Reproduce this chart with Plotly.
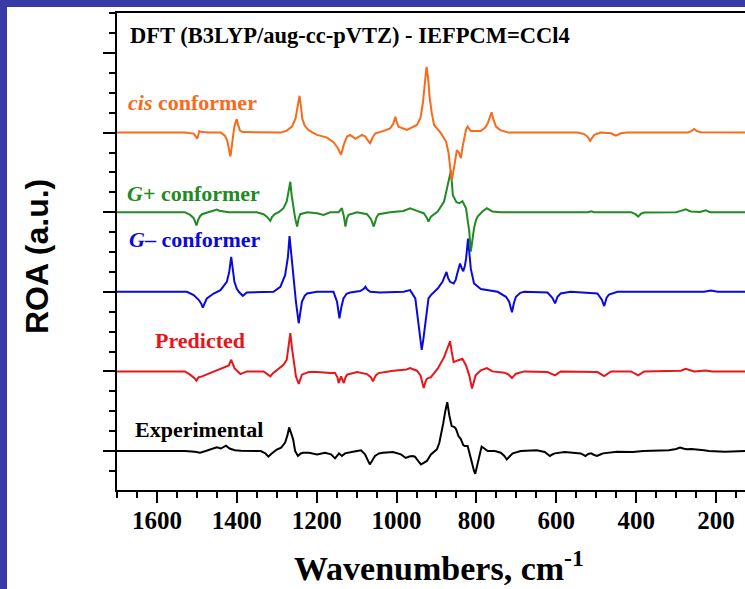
import plotly.graph_objects as go

# ---------------------------------------------------------------
# ROA spectra (wavenumber in cm-1, intensity in arbitrary units)
# ---------------------------------------------------------------
cis_wn = [1700, 1530, 1508, 1502, 1499, 1496, 1494, 1488, 1470, 1440, 1430, 1424, 1419, 1416, 1412,
          1407, 1402, 1400, 1397, 1392, 1385, 1320, 1290, 1275, 1262, 1253, 1247, 1243, 1240, 1236,
          1230, 1222, 1210, 1199, 1174, 1158, 1148, 1139, 1132, 1124, 1116, 1103, 1087, 1078, 1070,
          1066, 1060, 1053, 1032, 1016, 1008, 1003, 999, 995, 974, 949, 940, 934, 929, 925, 921, 917,
          912, 906, 889, 876, 870, 866, 862, 858, 854, 849, 844, 839, 835, 831, 826, 822, 818, 814,
          789, 778, 772, 766, 762, 758, 751, 740, 730, 720, 547, 530, 522, 515, 510, 505, 489, 463,
          451, 438, 425, 271, 262, 255, 248, 238, 127]
cis_roa = [0, 0, -1, -4, -6, -2, 1.5, 0.5, 0, 0, -3, -8, -18, -24, -12,
           4, 12, 13.5, 8, 2, 0.5, 0.5, 0, 2, 6, 14, 28, 37, 28, 14,
           7, 3, 0, -2.3, -5, -9.7, -15, -22.3, -12, -4, -2.3, -6.3, -2.3, -4, -9,
           -10.7, -5, -0.7, 1.7, 4.3, 9, 16, 10, 6, 2.7, 7.7, 15, 30, 50, 66, 55, 35,
           20, 7.7, -0.6, -9, -20, -35, -48, -40, -28, -17.7, -20, -25.6, -15, -5, 3, 6, 3, 1.5,
           1.5, 5, 9, 15, 20.4, 14, 6, 2.5, 1, 0, 0, -1.5, -4, -8.3, -5, -2.3, 0, -0.7,
           -3, -0.7, 0, 0, 1.5, 3.7, 1.5, 0.3, 0]

gplus_wn = [1700, 1530, 1517, 1508, 1504, 1501, 1497, 1492, 1487, 1466, 1455, 1450, 1444, 1433, 1420,
            1350, 1333, 1325, 1319, 1316, 1312, 1305, 1295, 1283, 1275, 1270, 1266, 1263, 1259, 1254,
            1249, 1245, 1241, 1224, 1199, 1183, 1166, 1145, 1137, 1132, 1128, 1124, 1120, 1099, 1074,
            1064, 1057, 1050, 1045, 1016, 983, 966, 949, 932, 925, 920, 914, 897, 881, 871, 866, 864,
            861, 859, 850, 843, 835, 830, 826, 822, 818, 814, 810, 806, 801, 797, 785, 774, 766, 760,
            740, 520, 513, 505, 413, 402, 395, 388, 380, 300, 288, 276, 268, 263, 240, 226, 218, 213, 127]
gplus_roa = [0, 0, -2.7, -6, -10, -13.4, -8, -4, -2, 0.7, 2, 2.6, 1.5, 0.7, 0,
             0, -2, -4.5, -7, -8.7, -5, -2, 0, 4, 10.7, 20, 30.6, 18, 5, -6,
             -14.4, -6, -2, 0, -1, -2.7, 0, 0, 4, -4, -14.4, -6, -2.7, 0, -2,
             -7, -14.4, -5, -2, 0, 1.3, 4, 1.3, -1, -5, -9.4, -4.4, 0.7, 10.7, 27, 38, 42,
             30, 17, 10, 9, 11, 7, 4, -8, -19, -39.7, -25, -16, -8, -4.4, 0.7, 4, 2, 0.7,
             0, 0, 1, 0, 0, -2, -4.4, -1.5, -0.3, 0, 1.3, 3, 1.5, 0.7, 0.3, 2, 0.5, 0, 0]

gminus_wn = [1700, 1525, 1508, 1495, 1489, 1485, 1481, 1475, 1458, 1441, 1425, 1419, 1414, 1410, 1406,
             1400, 1395, 1385, 1375, 1308, 1291, 1279, 1272, 1268, 1264, 1258, 1252, 1245, 1241, 1237,
             1230, 1224, 1199, 1158, 1149, 1143, 1138, 1133, 1125, 1116, 1091, 1082, 1078, 1074, 1066,
             1041, 982, 966, 953, 945, 940, 937, 933, 928, 920, 914, 905, 897, 885, 879, 875, 871, 866,
             857, 852, 847, 841, 837, 833, 829, 826, 821, 818, 814, 806, 789, 747, 726, 718, 711, 706,
             701, 690, 680, 622, 610, 603, 597, 589, 564, 497, 486, 480, 474, 468, 447, 230, 213, 196, 127]
gminus_roa = [0, 0, -3.3, -8.3, -12, -16, -12, -6.7, -1.7, 1.7, 10, 20, 35, 22, 10,
              3, 0, -4, -0.7, 0, 5, 16.7, 35, 56, 38, 16.7, -10, -31.6, -20, -10,
              -4, -1.7, 0, 0, -10, -26.6, -15, -6.7, -2, -0.7, 0.7, 3, 5, 2.5, 0,
              -0.7, 0, 1.7, -6.7, -30, -50, -58.3, -48, -30, -6.7, -3.3, 0, 3.3, 10, 15, 20, 14, 10,
              8.3, 12, 20, 28.4, 24, 20.7, 26, 33, 53.4, 40, 23, 8.3, 2.7, 0, -5, -10, -20.6, -11,
              -5, -1, 0, -0.7, -6, -11.6, -5, -1.7, 0, -1.7, -8, -14.3, -6, -2.7, 0, 0, 1.3, 0, 0]

pred_wn = [1700, 1530, 1517, 1505, 1501, 1496, 1487, 1466, 1433, 1420, 1414, 1409, 1406, 1391, 1375,
           1333, 1322, 1316, 1310, 1304, 1283, 1275, 1270, 1266, 1262, 1258, 1252, 1245, 1241, 1237,
           1220, 1199, 1166, 1154, 1148, 1145, 1139, 1132, 1128, 1124, 1099, 1074, 1064, 1059, 1052,
           1045, 1008, 975, 966, 958, 949, 940, 937, 932, 928, 924, 914, 905, 897, 881, 872, 866, 862,
           857, 847, 835, 826, 818, 811, 806, 802, 789, 774, 760, 730, 720, 711, 705, 701, 680, 622,
           603, 589, 497, 480, 463, 413, 395, 380, 288, 276, 255, 226, 210, 127]
pred_roa = [0, 0, -3.3, -7, -9.3, -6, -5, -1.7, 3.3, 6, 11.7, 6, 3.3, -2.7, 0,
            0, -3, -5, -2, 0, 6.7, 11.7, 25, 38.4, 24, 10, -5, -12.6, -7, -3.3,
            -0.7, -0.7, -1.7, -1.7, -6, -11.7, -5, -11.7, -6, -3.3, -0.7, -2.7, -6, -10, -4,
            -1.7, 0.7, 2, 3.3, 2, 0.7, -4, -8.3, -16.6, -11, -7.3, -5.7, -1, 2.7, 14.3, 24, 30.3, 20,
            9.3, 11, 12.7, 6, -4, -17.3, -10, -4, 1, 3.3, 0, -1.3, -3, -6.7, -4, -2.3, 0, -0.7,
            -4, 0, -0.7, -4.7, 0, 0, -4, 0, 0.7, 2.7, 0, 1, 0, 0]

exp_wn = [1700, 1530, 1505, 1492, 1478, 1462, 1450, 1440, 1432, 1427, 1418, 1405, 1390, 1340, 1328,
          1321, 1314, 1309, 1300, 1289, 1279, 1273, 1269, 1264, 1259, 1254, 1247, 1240, 1234, 1219,
          1199, 1179, 1164, 1154, 1148, 1144, 1137, 1129, 1109, 1089, 1079, 1072, 1067, 1060, 1054,
          1044, 1034, 1009, 989, 977, 968, 960, 954, 946, 939, 932, 924, 914, 905, 899, 893, 889, 883,
          878, 873, 868, 862, 855, 851, 845, 839, 833, 829, 822, 816, 811, 806, 803, 799, 794, 790,
          787, 780, 772, 754, 739, 730, 724, 716, 709, 689, 649, 629, 621, 616, 610, 604, 579, 539,
          532, 527, 520, 513, 505, 498, 490, 483, 448, 408, 383, 318, 300, 290, 280, 273, 262, 248,
          230, 218, 178, 127]
exp_roa = [0, 0, -0.8, -1.7, 0, 2.4, 3.7, 2.5, 4.5, 5.3, 2.5, 0.8, 0.3, 0, -2.5,
           -5.7, -3, -1.7, 1.5, 3.4, 8.5, 16, 23.7, 18, 11.8, 0, -5, -2.5, -1.7, -1.7,
           -3.4, -1.7, -3.4, -7.4, -4, -2.4, -5, -2.4, -0.7, 0.7, -3.4, -9, -13.5, -9, -5,
           -2.5, -1.7, -1, -3.4, -7, -5.5, -5, -5.7, -10, -13.5, -12, -10, -3.4, 0, 1.7, 8, 15, 28,
           40, 49, 36, 25, 24, 22, 15, 12, 6, 5, 5, -3, -12, -20, -23, -16, -8, 0,
           4.4, 2.5, 0, 0, -1.7, -5, -8.5, -5, -2.4, 0, 0.7, -1, -3, -5, -3.5, -2.4, -1, -2.4,
           -4, -5, -3, -2.4, -4, -5, -3.5, -2.4, -0.7, -1, 0, 0.7, 2, 3.4, 2.2, 1.7, 2, 1.7,
           0.7, 0, -0.7, 0]

# tick values of the wavenumber axis
wn_ticks = [1600, 1400, 1200, 1000, 800, 600, 400, 200]
wn_tick_text = ["1600", "1400", "1200", "1000", "800", "600", "400", "200"]

# ---------------------------------------------------------------
# Layout constants
# ---------------------------------------------------------------
W, H = 745, 589
ML, MR, MT, MB = 117, 0, 13, 99
PW, PH = W - ML - MR, H - MT - MB
STEP = 80  # vertical spacing between stacked spectra

SERIF = "Liberation Serif"
SANS = "Liberation Sans"
ORANGE, GREEN, BLUE, RED, BLACK = "#F96A1B", "#1F8B22", "#0A0ADC", "#E8151B", "#000000"
FRAME = "#383AA6"


def px2x(px):
    return (px - ML) / PW


def py2y(py):
    return (H - MB - py) / PH


fig = go.Figure()

# stacking order: experimental at the bottom, cis on top
stack = [
    (exp_wn, exp_roa, 0, BLACK),
    (pred_wn, pred_roa, 1, RED),
    (gminus_wn, gminus_roa, 2, BLUE),
    (gplus_wn, gplus_roa, 3, GREEN),
    (cis_wn, cis_roa, 4, ORANGE),
]
for wn, roa, level, color in stack:
    fig.add_trace(go.Scatter(
        x=wn, y=[v + level * STEP for v in roa], mode="lines",
        line=dict(color=color, width=2), hoverinfo="skip", showlegend=False))

fig.update_layout(
    width=W, height=H,
    margin=dict(l=ML, r=MR, t=MT, b=MB, pad=0),
    paper_bgcolor=FRAME, plot_bgcolor="white",
    showlegend=False,
    xaxis=dict(
        range=[1700, 127.5], showgrid=False, zeroline=False,
        showline=True, linecolor="black", linewidth=2, mirror=True,
        ticks="outside", ticklen=11, tickwidth=2, tickcolor="black",
        tickvals=wn_ticks, ticktext=["<b>%s</b>" % t for t in wn_tick_text],
        tickfont=dict(family=SERIF, size=25, color="black"),
        ticklabelstandoff=-4,
        minor=dict(dtick=50, tick0=0, ticks="outside", ticklen=6, tickwidth=2, tickcolor="black"),
    ),
    yaxis=dict(
        range=[-39.2, 440.2], showgrid=False, zeroline=False,
        showline=True, linecolor="black", linewidth=2, mirror=False,
        ticks="outside", ticklen=12, tickwidth=2, tickcolor="black",
        dtick=STEP, tick0=0, showticklabels=False,
        minor=dict(dtick=20, tick0=0, ticks="outside", ticklen=6.5, tickwidth=2, tickcolor="black"),
    ),
)

# white page inside the coloured frame
fig.add_shape(type="rect", xref="paper", yref="paper",
              x0=px2x(7), x1=px2x(W + 20), y0=py2y(H + 20), y1=py2y(7),
              fillcolor="white", line=dict(width=0), layer="below")


def label(text, px_left, py_mid, color, size=22, family=SERIF):
    fig.add_annotation(
        text="<b>%s</b>" % text, xref="paper", yref="paper", x=px2x(px_left), y=py2y(py_mid),
        xanchor="left", yanchor="middle", showarrow=False,
        font=dict(family=family, size=size, color=color))


label("DFT (B3LYP/aug-cc-pVTZ) - IEFPCM=CCl4", 128, 35, BLACK, size=22.5)
label("<i>cis</i> conformer", 126, 103, ORANGE)
label("<i>G</i>+ conformer", 125, 194, GREEN)
label("<i>G</i>\u2013 conformer", 127, 239, BLUE)
label("Predicted", 153, 340, RED)
label("Experimental", 133, 429, BLACK)

# axis titles
fig.add_annotation(
    text="<b>Wavenumbers, cm<sup>-1</sup></b>", xref="paper", yref="paper",
    x=px2x(292), y=py2y(566), xanchor="left", yanchor="middle", showarrow=False,
    font=dict(family=SERIF, size=34, color="black"))
fig.add_annotation(
    text="<b>ROA (a.u.)</b>", xref="paper", yref="paper", textangle=-90,
    x=px2x(37), y=py2y(257), xanchor="center", yanchor="middle", showarrow=False,
    font=dict(family=SANS, size=32, color="black"))

fig.write_html("out.html")
